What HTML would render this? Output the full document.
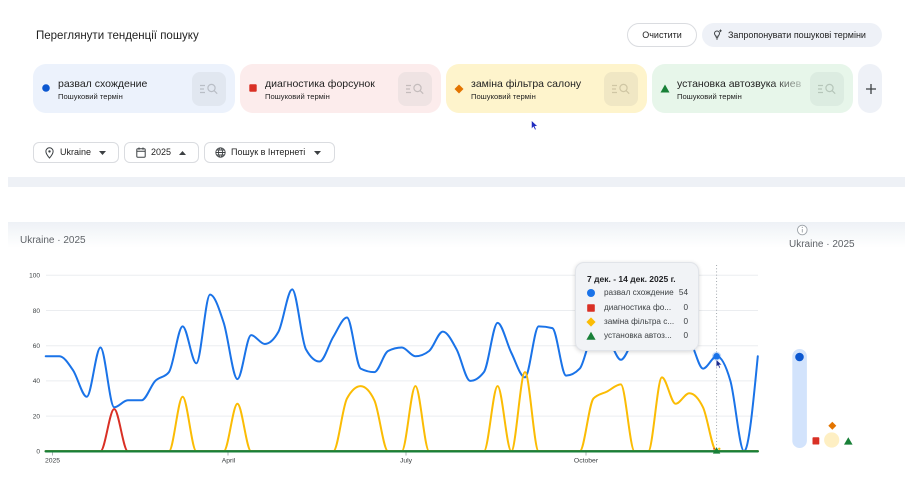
<!DOCTYPE html>
<html><head><meta charset="utf-8">
<style>
*{margin:0;padding:0;box-sizing:border-box}
html,body{width:914px;height:478px;overflow:hidden;background:#fff;font-family:"Liberation Sans","DejaVu Sans",sans-serif;color:#1f1f1f}
.t{position:absolute;white-space:nowrap}
.card{position:absolute;top:64px;height:49px;width:201px;border-radius:13px;overflow:hidden}
.card .nm{position:absolute;left:25px;top:13px;font-size:10.5px;line-height:14px;color:#1f1f1f;white-space:nowrap}
.card .sub{position:absolute;left:25px;top:28px;font-size:7.6px;line-height:10px;color:#1f1f1f;white-space:nowrap}
.card .box{position:absolute;right:9px;top:8px;width:34px;height:34px;border-radius:8px}
.card .mk{position:absolute}
.flt{position:absolute;top:142px;height:21px;border:1px solid #dadce0;border-radius:6px;background:#fff}
.flt span{position:absolute;top:4px;font-size:9px;line-height:11px;color:#1f1f1f;white-space:nowrap}
.tt{position:absolute;left:575px;top:262px;width:124px;height:89px;border-radius:9px;background:#f1f3f6;border:1px solid #e1e4e9;box-shadow:0 1px 4px rgba(0,0,0,.16)}
.tt .r{position:absolute;left:28px;font-size:8.2px;line-height:10px;color:#3c4043;white-space:nowrap}
.tt .v{position:absolute;right:10px;font-size:8.2px;line-height:10px;color:#3c4043}
</style></head>
<body>

<!-- header -->
<div class="t" style="left:36px;top:29px;font-size:11.5px;line-height:14px;color:#1f1f1f;">Переглянути тенденції пошуку</div>

<div style="position:absolute;left:627px;top:23px;width:70px;height:24px;border:1px solid #dadce0;border-radius:12px;background:#fff;"></div>
<div class="t" style="left:627px;top:29px;width:70px;text-align:center;font-size:9px;line-height:12px;color:#1f1f1f;">Очистити</div>

<div style="position:absolute;left:702px;top:23px;width:180px;height:24px;border-radius:12px;background:#eef1f7;"></div>
<svg style="position:absolute;left:711px;top:29px" width="12" height="12" viewBox="0 0 12 12">
  <path d="M3.5 4.5a2.5 2.5 0 1 1 5 0c0 1.2-1 1.8-1.2 2.8H4.7C4.5 6.3 3.5 5.7 3.5 4.5z" fill="none" stroke="#3c4043" stroke-width="1"/>
  <path d="M4.8 8.6h2.4M5.2 10h1.6" stroke="#3c4043" stroke-width="1"/>
  <path d="M9.5 0.5v2.6M8.2 1.8h2.6" stroke="#3c4043" stroke-width="0.9"/>
</svg>
<div class="t" style="left:728px;top:29px;font-size:9px;line-height:12px;color:#1f1f1f;">Запропонувати пошукові терміни</div>

<!-- term cards -->
<div class="card" style="left:33px;width:202px;background:#ecf2fc;">
  <svg class="mk" style="left:9px;top:20px" width="8" height="8"><circle cx="4" cy="4" r="3.8" fill="#0b57d0"/></svg>
  <div class="nm">развал схождение</div>
  <div class="sub">Пошуковий термін</div>
  <div class="box" style="background:#e1e7f0;"><svg width="34" height="34"><g stroke="#b9bec6" stroke-width="1.2" fill="none"><path d="M8 13.5h5M8 17h4M8 20.5h5"/><circle cx="19.5" cy="16" r="3.6"/><path d="M22.2 18.7l3 3"/></g></svg></div>
</div>
<div class="card" style="left:240px;background:#fcecec;">
  <svg class="mk" style="left:9px;top:20px" width="8" height="8"><rect x="0.3" y="0.3" width="7.4" height="7.4" rx="1" fill="#d93025"/></svg>
  <div class="nm">диагностика форсунок</div>
  <div class="sub">Пошуковий термін</div>
  <div class="box" style="background:#efe3e3;"><svg width="34" height="34"><g stroke="#c4bcbc" stroke-width="1.2" fill="none"><path d="M8 13.5h5M8 17h4M8 20.5h5"/><circle cx="19.5" cy="16" r="3.6"/><path d="M22.2 18.7l3 3"/></g></svg></div>
</div>
<div class="card" style="left:446px;background:#fef4cc;">
  <svg class="mk" style="left:8px;top:20px" width="10" height="10"><path d="M5 0.5L9.5 5 5 9.5 0.5 5z" fill="#e37400"/></svg>
  <div class="nm">заміна фільтра салону</div>
  <div class="sub">Пошуковий термін</div>
  <div class="box" style="background:#f0e7c4;"><svg width="34" height="34"><g stroke="#cfc6a4" stroke-width="1.2" fill="none"><path d="M8 13.5h5M8 17h4M8 20.5h5"/><circle cx="19.5" cy="16" r="3.6"/><path d="M22.2 18.7l3 3"/></g></svg></div>
</div>
<div class="card" style="left:652px;background:#e7f6ea;">
  <svg class="mk" style="left:8px;top:20px" width="10" height="9"><path d="M5 0.5L9.5 8.5H0.5z" fill="#188038"/></svg>
  <div class="nm" style="width:130px;overflow:hidden;-webkit-mask-image:linear-gradient(90deg,#000 72%,rgba(0,0,0,0.15) 100%);mask-image:linear-gradient(90deg,#000 72%,rgba(0,0,0,0.15) 100%);">установка автозвука киев</div>
  <div class="sub">Пошуковий термін</div>
  <div class="box" style="background:#dcece1;"><svg width="34" height="34"><g stroke="#b6c6ba" stroke-width="1.2" fill="none"><path d="M8 13.5h5M8 17h4M8 20.5h5"/><circle cx="19.5" cy="16" r="3.6"/><path d="M22.2 18.7l3 3"/></g></svg></div>
</div>
<div style="position:absolute;left:858px;top:64px;width:24px;height:49px;border-radius:12px;background:#eef1f7;"></div>
<svg style="position:absolute;left:865px;top:83px" width="12" height="12"><path d="M6 1v10M1 6h10" stroke="#3c4043" stroke-width="1.3"/></svg>

<!-- filters -->
<div class="flt" style="left:33px;width:86px;">
  <svg style="position:absolute;left:11px;top:4px" width="9" height="12" viewBox="0 0 9 12"><path d="M4.5 11s-3.6-4-3.6-6.6a3.6 3.6 0 0 1 7.2 0C8.1 7 4.5 11 4.5 11z" fill="none" stroke="#3c4043" stroke-width="1"/><circle cx="4.5" cy="4.4" r="1.2" fill="#3c4043"/></svg>
  <span style="left:26px;">Ukraine</span>
  <svg style="position:absolute;left:65px;top:8px" width="7" height="4"><path d="M0 0h7L3.5 4z" fill="#3c4043"/></svg>
</div>
<div class="flt" style="left:124px;width:75px;">
  <svg style="position:absolute;left:11px;top:4px" width="10" height="11" viewBox="0 0 10 11"><rect x="0.8" y="1.8" width="8.4" height="8.4" rx="1" fill="none" stroke="#3c4043" stroke-width="1"/><path d="M0.8 4.3h8.4M3 0.5v2.2M7 0.5v2.2" stroke="#3c4043" stroke-width="1"/></svg>
  <span style="left:26px;">2025</span>
  <svg style="position:absolute;left:54px;top:8px" width="7" height="4"><path d="M0 4h7L3.5 0z" fill="#3c4043"/></svg>
</div>
<div class="flt" style="left:204px;width:131px;">
  <svg style="position:absolute;left:10px;top:4px" width="11" height="11" viewBox="0 0 11 11"><g fill="none" stroke="#3c4043" stroke-width="0.9"><circle cx="5.5" cy="5.5" r="4.7"/><ellipse cx="5.5" cy="5.5" rx="2" ry="4.7"/><path d="M0.8 5.5h9.4M1.5 3h8M1.5 8h8"/></g></svg>
  <span style="left:26px;">Пошук в Інтернеті</span>
  <svg style="position:absolute;left:109px;top:8px" width="7" height="4"><path d="M0 0h7L3.5 4z" fill="#3c4043"/></svg>
</div>

<!-- bands -->
<div style="position:absolute;left:8px;top:177px;width:897px;height:10px;background:#eef1f6;"></div>
<div style="position:absolute;left:8px;top:222px;width:897px;height:26px;background:linear-gradient(180deg,#eef1f6 0%,#f6f8fa 45%,#ffffff 100%);"></div>

<div class="t" style="left:20px;top:235px;font-size:10px;line-height:12px;color:#5f6368;">Ukraine · 2025</div>
<div class="t" style="left:789px;top:238.5px;font-size:10px;line-height:12px;color:#5f6368;">Ukraine · 2025</div>

<!-- chart -->
<svg id="ch" style="position:absolute;left:0;top:0" width="914" height="478" viewBox="0 0 914 478">
  <g stroke="#ebedf0" stroke-width="1">
    <path d="M46 275.3H758M46 310.5H758M46 345.7H758M46 380.9H758M46 416.1H758"/>
  </g>
  <g font-family="Liberation Sans, DejaVu Sans, sans-serif" font-size="6.5" fill="#3c4043" text-anchor="end">
    <text x="40" y="277.6">100</text>
    <text x="40" y="312.8">80</text>
    <text x="40" y="348">60</text>
    <text x="40" y="383.2">40</text>
    <text x="40" y="418.4">20</text>
    <text x="40" y="453.6">0</text>
  </g>
  <path d="M52.5 451.5v4M228 451.5v4M406 451.5v4M586 451.5v4" stroke="#9aa0a6" stroke-width="0.8"/>
  <g font-family="Liberation Sans, DejaVu Sans, sans-serif" font-size="6.8" fill="#3c4043" text-anchor="middle">
    <text x="52.5" y="462.5">2025</text>
    <text x="228.5" y="462.5">April</text>
    <text x="406" y="462.5">July</text>
    <text x="586" y="462.5">October</text>
  </g>
  <path d="M716.6 265V451" stroke="#9aa0a6" stroke-width="0.9" stroke-dasharray="1 2.2"/>
  <g fill="none" stroke-width="2" stroke-linejoin="round" stroke-linecap="round">
    <path id="pb" stroke="#1a73e8"/>
    <path id="pr" stroke="#d93025"/>
    <path id="py" stroke="#fbbc04"/>
    <path id="pg" stroke="#188038" stroke-width="2.4"/>
  </g>
  <circle cx="716.6" cy="356.3" r="4.6" fill="#1a73e8" fill-opacity="0.25"/>
  <circle cx="716.6" cy="356.3" r="3.3" fill="#1a73e8"/>
  <path d="M713.6 449.5l0.8-1.5" stroke="#d93025" stroke-width="1.2"/>
  <circle cx="719.3" cy="448.8" r="1.2" fill="#fbbc04"/>
  <path d="M716.6 447.3L720.3 453.6H712.9z" fill="#188038"/>
  <path d="M716.2 359.5v7.6l1.8-1.8 1.3 2.9 1.2-0.5-1.3-2.8h2.6z" fill="#1b2a8f" stroke="#fff" stroke-width="0.5"/>
  <path d="M531.5 120.5v8.2l2-1.9 1.4 3.1 1.3-0.6-1.4-3h2.8z" fill="#1f2bbf" stroke="#fff" stroke-width="0.5"/>

  <!-- right panel -->
  <circle cx="802.3" cy="230" r="4.8" fill="#fff" stroke="#9aa0a6" stroke-width="0.9"/>
  <path d="M802.3 229v3.5" stroke="#9aa0a6" stroke-width="0.9"/>
  <circle cx="802.3" cy="227.4" r="0.6" fill="#9aa0a6"/>
  <rect x="792.3" y="349" width="14.6" height="99" rx="7.3" fill="#d2e3fc"/>
  <circle cx="799.5" cy="357" r="4.3" fill="#0b57d0"/>
  <rect x="812.5" y="437.3" width="6.8" height="7.2" rx="0.8" fill="#d93025"/>
  <circle cx="831.7" cy="440" r="7.6" fill="#feefc3"/>
  <path d="M832.3 421.7L836.3 425.7 832.3 429.7 828.3 425.7z" fill="#e37400"/>
  <path d="M848.3 437.2L852.6 444.6H844z" fill="#188038"/>
</svg>

<!-- tooltip -->
<div class="tt">
  <div class="t" style="left:11px;top:11px;font-size:8.5px;line-height:10px;font-weight:bold;color:#202124;">7 дек. - 14 дек. 2025 г.</div>
  <svg style="position:absolute;left:10px;top:25px" width="10" height="10"><circle cx="5" cy="5" r="4" fill="#1a73e8"/></svg>
  <div class="r" style="top:25px;">развал схождение</div><div class="v" style="top:25px;">54</div>
  <svg style="position:absolute;left:10px;top:40px" width="10" height="10"><rect x="1.2" y="1.2" width="7.6" height="7.6" rx="0.8" fill="#d93025"/></svg>
  <div class="r" style="top:40px;">диагностика фо...</div><div class="v" style="top:40px;">0</div>
  <svg style="position:absolute;left:10px;top:54px" width="10" height="10"><path d="M5 0.4L9.6 5 5 9.6 0.4 5z" fill="#fbbc04"/></svg>
  <div class="r" style="top:54px;">заміна фільтра с...</div><div class="v" style="top:54px;">0</div>
  <svg style="position:absolute;left:10px;top:68px" width="10" height="10"><path d="M5 0.8L9.6 8.8H0.4z" fill="#188038"/></svg>
  <div class="r" style="top:68px;">установка автоз...</div><div class="v" style="top:68px;">0</div>
</div>

<script>
(function(){
  var blue=[54,54,46,31,59,25,29,29,40,45,71,50,89,73,41,66,61,68,92,58,51,65,76,47,45,57,59,54,57,68,58,40,45,73,56,42,71,70,43,47,66,64,52,64,68,66,63,62,47,54,40,0,54];
  var yel=[0,0,0,0,0,0,0,0,0,0,31,0,0,0,27,0,0,0,0,0,0,0,30,37,29,0,0,37,0,0,0,0,0,37,0,45,0,0,0,0,30,34,38,0,0,42,27,33,25,0,0,0,0];
  var red=[];for(var i=0;i<53;i++)red.push(i==5?24:0);
  var grn=[];for(var i=0;i<53;i++)grn.push(0);
  function X(i){return 45.7+13.694*i;}
  function Y(v){return 451.3-v*1.76;}
  function mono(vals){
    var n=vals.length,xs=[],ys=[],s=[],t=[];
    for(var i=0;i<n;i++){xs.push(X(i));ys.push(Y(vals[i]));}
    for(var i=0;i<n-1;i++)s.push((ys[i+1]-ys[i])/(xs[i+1]-xs[i]));
    for(var i=1;i<n-1;i++){
      var h0=xs[i]-xs[i-1],h1=xs[i+1]-xs[i],s0=s[i-1],s1=s[i];
      var p=(s0*h1+s1*h0)/(h0+h1);
      t[i]=(Math.sign(s0)+Math.sign(s1))*Math.min(Math.abs(s0),Math.abs(s1),0.5*Math.abs(p))||0;
    }
    t[0]=(3*s[0]-t[1])/2;
    t[n-1]=(3*s[n-2]-t[n-2])/2;
    var d='M'+xs[0].toFixed(2)+','+ys[0].toFixed(2);
    for(var i=0;i<n-1;i++){
      var h=(xs[i+1]-xs[i])/3;
      d+='C'+(xs[i]+h).toFixed(2)+','+(ys[i]+h*t[i]).toFixed(2)+' '+(xs[i+1]-h).toFixed(2)+','+(ys[i+1]-h*t[i+1]).toFixed(2)+' '+xs[i+1].toFixed(2)+','+ys[i+1].toFixed(2);
    }
    return d;
  }
  document.getElementById('pb').setAttribute('d',mono(blue));
  document.getElementById('pr').setAttribute('d',mono(red));
  document.getElementById('py').setAttribute('d',mono(yel));
  document.getElementById('pg').setAttribute('d',mono(grn));
})();
</script>
</body></html>
